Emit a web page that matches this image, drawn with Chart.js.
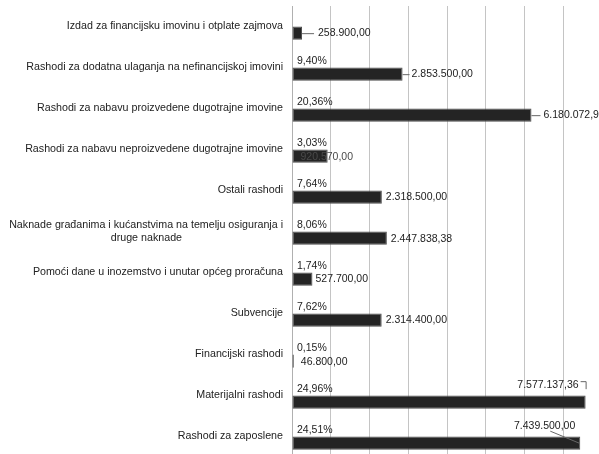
<!DOCTYPE html>
<html>
<head>
<meta charset="utf-8">
<script src="https://cdn.jsdelivr.net/npm/chart.js@4"></script>
<style>
html,body{margin:0;padding:0;background:#fff;overflow:hidden;width:599px;height:454px;}
canvas{display:block;}
</style>
</head>
<body>
<canvas id="c" width="605" height="457"></canvas>
<script>
const categories = [
  "Izdad za financijsku imovinu i otplate zajmova",
  "Rashodi za dodatna ulaganja na nefinancijskoj imovini",
  "Rashodi za nabavu proizvedene dugotrajne imovine",
  "Rashodi za nabavu neproizvedene dugotrajne imovine",
  "Ostali rashodi",
  ["Naknade građanima i kućanstvima na temelju osiguranja i", "druge naknade"],
  "Pomoći dane u inozemstvo i unutar općeg proračuna",
  "Subvencije",
  "Financijski rashodi",
  "Materijalni rashodi",
  "Rashodi za zaposlene"
];
const amounts = [258900.00, 2853500.00, 6180072.95, 920570.00, 2318500.00, 2447838.38, 527700.00, 2314400.00, 46800.00, 7577137.36, 7439500.00];
const percents = [null, 9.40, 20.36, 3.03, 7.64, 8.06, 1.74, 7.62, 0.15, 24.96, 24.51];
const xTicks = [0, 1000000, 2000000, 3000000, 4000000, 5000000, 6000000, 7000000, 8000000];

const FONT_FAMILY = '"Liberation Sans", Arial, sans-serif';
const LABEL_SIZE = 10.7;
const LABEL_FONT = LABEL_SIZE + 'px ' + FONT_FAMILY;
const TEXT_COLOR = '#222';

// center the second line of the wrapped label under the first (right-aligned ticks)
(function(){
  const m = document.createElement('canvas').getContext('2d');
  m.font = LABEL_FONT;
  categories.forEach((c, i) => {
    if (Array.isArray(c)) {
      const w1 = m.measureText(c[0]).width, w2 = m.measureText(c[1]).width;
      const ws = m.measureText('\u00A0').width;
      const n = Math.round(((w1 - w2) / 2) / ws);
      categories[i] = [c[0], c[1] + '\u00A0'.repeat(n)];
    }
  });
})();

function fmtNum(v, d) {
  const parts = v.toFixed(d).split('.');
  parts[0] = parts[0].replace(/\B(?=(\d{3})+(?!\d))/g, '.');
  return parts.join(',');
}

// label placement styles per bar
const valuePlacement = [
  {mode:'leader', line:12, gap:16},
  {mode:'leader', line:7, gap:9},
  {mode:'leader', line:9, gap:12},
  {mode:'inside', gap:8, dy:1},
  {mode:'right', gap:4},
  {mode:'right', gap:4, dy:1},
  {mode:'right', gap:3},
  {mode:'right', gap:4},
  {mode:'right', gap:7, dy:1},
  {mode:'aboveElbow'},
  {mode:'aboveDiag'}
];

const labelPlugin = {
  id: 'labels',
  afterDatasetsDraw(chart) {
    const ctx = chart.ctx;
    const area = chart.chartArea;
    const m0 = chart.getDatasetMeta(0);
    const m1 = chart.getDatasetMeta(1);
    ctx.save();
    ctx.font = '10.5px ' + FONT_FAMILY;
    ctx.fillStyle = TEXT_COLOR;
    ctx.textBaseline = 'middle';
    // percentages
    m0.data.forEach((el, i) => {
      const p = percents[i];
      if (p === null) return;
      ctx.textAlign = 'left';
      ctx.fillText(fmtNum(p, 2) + '%', area.left + 5, el.y);
    });
    // values
    ctx.strokeStyle = '#666';
    ctx.lineWidth = 1;
    m1.data.forEach((el, i) => {
      const t = fmtNum(amounts[i], 2);
      const pl = valuePlacement[i];
      const x = el.x, y = el.y;
      ctx.textAlign = 'left';
      ctx.fillStyle = TEXT_COLOR;
      if (pl.mode === 'leader') {
        ctx.beginPath(); ctx.moveTo(x, y + 0.5); ctx.lineTo(x + pl.line, y + 0.5); ctx.stroke();
        ctx.fillText(t, x + pl.gap, y);
      } else if (pl.mode === 'inside') {
        ctx.fillStyle = '#4a4a4a';
        ctx.fillText(t, el.base + pl.gap, y + (pl.dy || 0));
      } else if (pl.mode === 'right') {
        ctx.fillText(t, x + pl.gap, y + (pl.dy || 0));
      } else if (pl.mode === 'aboveElbow') {
        ctx.textAlign = 'right';
        const ty = y - 17;
        ctx.fillText(t, x - 7, ty);
        ctx.beginPath(); ctx.moveTo(x - 5, ty - 3.5); ctx.lineTo(x + 0.5, ty - 3.5); ctx.lineTo(x + 0.5, ty + 4); ctx.stroke();
      } else if (pl.mode === 'aboveDiag') {
        ctx.textAlign = 'right';
        const ty = y - 17;
        ctx.fillText(t, x - 5, ty);
        ctx.beginPath(); ctx.moveTo(x - 30, ty + 5); ctx.lineTo(x - 1, y); ctx.stroke();
      }
    });
    ctx.restore();
  }
};

new Chart(document.getElementById('c'), {
  type: 'bar',
  data: {
    labels: categories,
    datasets: [
      { label: 'Udio', data: percents, backgroundColor: 'rgba(0,0,0,0)', borderWidth: 0 },
      { label: 'Iznos', data: amounts, backgroundColor: '#242424', borderColor: '#4d4d4d', borderWidth: 1, borderSkipped: false }
    ]
  },
  options: {
    indexAxis: 'y',
    responsive: false,
    animation: false,
    devicePixelRatio: 1,
    layout: { padding: { top: 6, right: 3, bottom: 0, left: 0 } },
    categoryPercentage: 0.65,
    barPercentage: 1.0,
    plugins: { legend: { display: false }, tooltip: { enabled: false } },
    scales: {
      x: {
        min: 0, max: 8000000,
        afterBuildTicks(scale) { scale.ticks = xTicks.map(v => ({ value: v })); },
        afterFit(scale) { scale.height = 0; scale.paddingLeft = 0; scale.paddingRight = 0; },
        ticks: { display: false },
        grid: { color: '#c4c4c4', lineWidth: 1, drawTicks: false },
        border: { display: false }
      },
      y: {
        afterFit(scale) { scale.width = 292; scale.paddingTop = 0; scale.paddingBottom = 0; },
        ticks: { color: TEXT_COLOR, font: { family: FONT_FAMILY, size: LABEL_SIZE }, padding: 9, autoSkip: false },
        grid: { display: false, drawTicks: false },
        border: { display: true, color: '#b0b0b0', width: 1 }
      }
    }
  },
  plugins: [labelPlugin]
});
</script>
</body>
</html>
